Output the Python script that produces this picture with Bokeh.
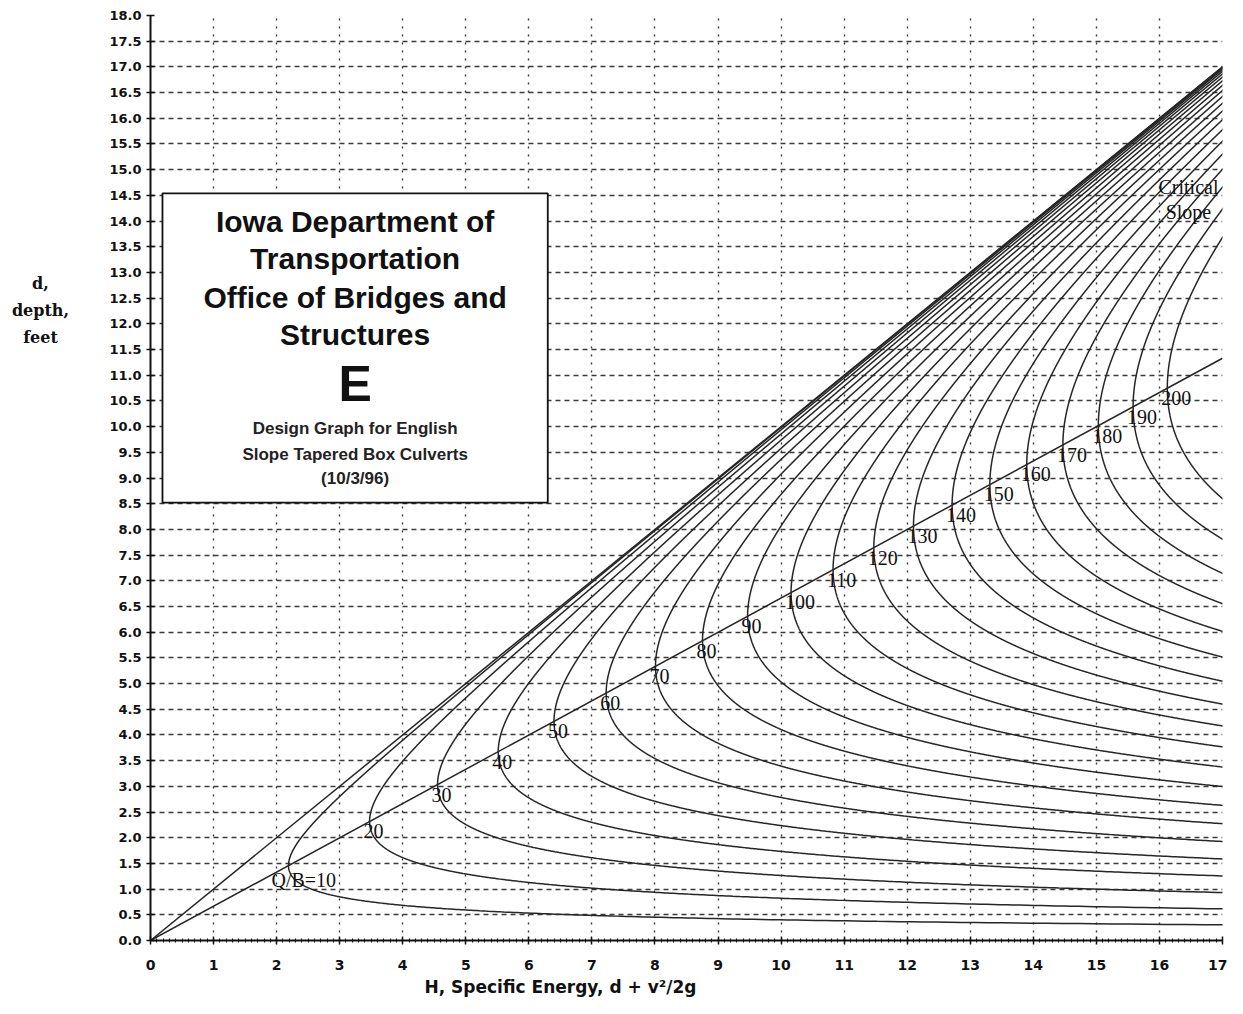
import numpy as np
from bokeh.plotting import figure
from bokeh.layouts import row
from bokeh.models import (Range1d, FixedTicker, SingleIntervalTicker, NumeralTickFormatter,
                          Label, Title, ColumnDataSource, BoxAnnotation)
from bokeh.embed import file_html
from bokeh.resources import INLINE
from bokeh.core.properties import value

# ---------------- data ----------------
G = 32.2  # ft/s^2, gravity used by the design graph
qb_values = [10, 20, 30, 40, 50, 60, 70, 80, 90, 100,
             110, 120, 130, 140, 150, 160, 170, 180, 190, 200]
curve_labels = ["Q/B=10", "20", "30", "40", "50", "60", "70", "80", "90", "100",
                "110", "120", "130", "140", "150", "160", "170", "180", "190", "200"]
x_ticks = [0, 1, 2, 3, 4, 5, 6, 7, 8, 9, 10, 11, 12, 13, 14, 15, 16, 17]
y_ticks = [0.0, 0.5, 1.0, 1.5, 2.0, 2.5, 3.0, 3.5, 4.0, 4.5, 5.0, 5.5, 6.0, 6.5, 7.0, 7.5,
           8.0, 8.5, 9.0, 9.5, 10.0, 10.5, 11.0, 11.5, 12.0, 12.5, 13.0, 13.5, 14.0, 14.5,
           15.0, 15.5, 16.0, 16.5, 17.0, 17.5, 18.0]
upper_line_H = [0, 17]
upper_line_d = [0, 17]
critical_line_H = [0, 17]
critical_line_d = [0, 11.33]
title_lines = ["Iowa Department of", "Transportation", "Office of Bridges and", "Structures"]
subtitle_lines = ["Design Graph for English", "Slope Tapered Box Culverts", "(10/3/96)"]
y_title = "d,\ndepth,\nfeet"
x_title = "H, Specific Energy, d + v\u00b2/2g"

# specific energy curves H = d + q^2 / (2 g d^2)
d_grid = np.linspace(0.15, 18.0, 6000)
xs, ys = [], []
for q in qb_values:
    H = d_grid + q ** 2 / (2 * G * d_grid ** 2)
    m = H <= 17.6
    xs.append(list(H[m]))
    ys.append(list(d_grid[m]))
dc = [(q ** 2 / G) ** (1.0 / 3.0) for q in qb_values]
Hc = [1.5 * v for v in dc]

INK = "#111111"

# ---------------- main figure ----------------
p = figure(frame_width=1072, frame_height=925, x_range=Range1d(0, 17), y_range=Range1d(0, 18),
           output_backend="svg", toolbar_location=None,
           min_border_left=50, min_border_right=5, min_border_top=15, min_border_bottom=50)
p.outline_line_color = None
p.background_fill_color = "white"
p.border_fill_color = "white"

# axes
p.xaxis.ticker = SingleIntervalTicker(interval=1, num_minor_ticks=10)
p.yaxis.ticker = FixedTicker(ticks=y_ticks)
p.yaxis.formatter = NumeralTickFormatter(format="0.0")
for ax in (p.xaxis[0], p.yaxis[0]):
    ax.axis_line_color = INK
    ax.axis_line_width = 2
    ax.major_tick_line_color = INK
    ax.major_tick_line_width = 1.5
    ax.major_tick_in = 4
    ax.major_tick_out = 4
    ax.major_label_text_font = "DejaVu Sans"
    ax.major_label_text_font_style = "bold"
    ax.major_label_text_color = INK
p.yaxis.major_label_text_font_size = "13px"
p.xaxis.major_label_text_font_size = "14px"
p.xaxis.minor_tick_line_color = INK
p.xaxis.minor_tick_in = 2
p.xaxis.minor_tick_out = 2
p.yaxis.minor_tick_line_color = None
p.xaxis.major_label_standoff = 15
p.yaxis.major_label_standoff = 5

# grid
p.xgrid.ticker = FixedTicker(ticks=x_ticks)
p.ygrid.ticker = FixedTicker(ticks=y_ticks)
p.xgrid.grid_line_color = "#3a3a3a"
p.xgrid.grid_line_dash = "2 6"
p.xgrid.grid_line_width = 1.4
p.ygrid.grid_line_color = "#3a3a3a"
p.ygrid.grid_line_dash = "5 4"
p.ygrid.grid_line_width = 1.3

# curves
p.multi_line(xs, ys, line_color="#262626", line_width=1.5)
p.line(upper_line_H, upper_line_d, line_color="#262626", line_width=1.5)
p.line(critical_line_H, critical_line_d, line_color="#262626", line_width=1.5)

# curve labels at critical points
src_first = ColumnDataSource(dict(x=Hc[:1], y=dc[:1], t=curve_labels[:1]))
src_rest = ColumnDataSource(dict(x=Hc[1:], y=dc[1:], t=curve_labels[1:]))
p.text(x="x", y="y", text="t", source=src_first, text_font=value("Liberation Serif"),
       text_font_size="20px", text_align="left", text_baseline="top",
       x_offset=-17, y_offset=3, text_color=INK)
p.text(x="x", y="y", text="t", source=src_rest, text_font=value("Liberation Serif"),
       text_font_size="20px", text_align="left", text_baseline="top",
       x_offset=-6, y_offset=3, text_color=INK)

p.add_layout(Label(x=16.46, y=14.42, text="Critical\nSlope", text_align="center",
                   text_baseline="middle", text_font="Liberation Serif",
                   text_font_size="20px", text_color=INK, text_line_height=1.1))

# title box
p.add_layout(BoxAnnotation(left=0.19, right=6.30, bottom=8.52, top=14.54,
                           fill_color="white", fill_alpha=1.0,
                           line_color=INK, line_alpha=1.0, line_width=1.8))
box_cx = 3.245
for txt, yy in zip(title_lines, [13.99, 13.27, 12.51, 11.79]):
    p.add_layout(Label(x=box_cx, y=yy, text=txt, text_align="center", text_baseline="middle",
                       text_font="Liberation Sans", text_font_style="bold",
                       text_font_size="30px", text_color=INK))
p.add_layout(Label(x=box_cx, y=10.82, text="E", text_align="center", text_baseline="middle",
                   text_font="Liberation Sans", text_font_style="bold",
                   text_font_size="50px", text_color=INK))
for txt, yy in zip(subtitle_lines, [9.96, 9.46, 8.99]):
    p.add_layout(Label(x=box_cx, y=yy, text=txt, text_align="center", text_baseline="middle",
                       text_font="Liberation Sans", text_font_style="bold",
                       text_font_size="17px", text_color="#222222"))

# x axis title
p.add_layout(Title(text=x_title, align="left", offset=274,
                   text_font="DejaVu Sans", text_font_style="bold", text_font_size="17px",
                   text_color=INK, standoff=4), "below")

# ---------------- y-title strip on the left ----------------
ylab = figure(width=100, height=998, x_range=Range1d(0, 100), y_range=Range1d(0, 998),
              output_backend="svg", toolbar_location=None,
              min_border=0, min_border_left=0, min_border_right=0,
              min_border_top=0, min_border_bottom=0)
ylab.axis.visible = False
ylab.grid.visible = False
ylab.outline_line_color = None
ylab.background_fill_color = "white"
ylab.border_fill_color = "white"
ylab.text(x=[40], y=[998 - 318], text=[y_title], text_font=value("DejaVu Serif"),
          text_font_style="bold", text_font_size="16px", text_align="center",
          text_baseline="middle", text_color=INK, text_line_height=1.42)

layout = row(ylab, p, spacing=0)
open("out.html", "w").write(file_html(layout, INLINE))
